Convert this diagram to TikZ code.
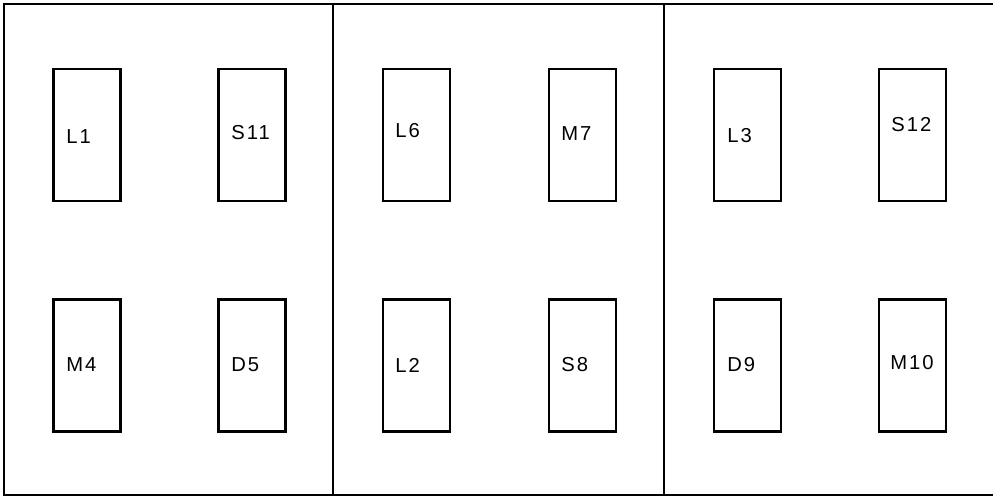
\documentclass[tikz,border=0pt]{standalone}
\usepackage{fontspec}
\setmainfont{Liberation Sans}[LetterSpace=10]
\usepackage{tikz}
\usetikzlibrary{positioning}

\tikzset{
    frame/.style={line width=1.1pt},
    room/.style={draw, line width=1.5pt, minimum width=1.34cm, minimum height=2.64cm, inner sep=0pt},
    tag/.style={anchor=west, inner sep=0pt, font=\fontsize{11.5}{13}\selectfont}
}

\begin{document}
\begin{tikzpicture}[x=0.02cm, y=-0.02cm]
    \useasboundingbox (0,0) rectangle (993,497);
    \clip (0,0) rectangle (993,497);

    % outer frame and panels
    \draw[frame] (4,4) rectangle (1000,495);
    \draw[frame] (333,4) -- (333,495);
    \draw[frame] (664,4) -- (664,495);

    % first panel
    \node[room] at (87,135) (l1) {};
    \node[room] at (252,135) (s11) {};
    \node[room] at (87,365.5) (m4) {};
    \node[room] at (252,365.5) (d5) {};
    \node[tag] at (66,137) (tl1) {L1};
    \node[tag] at (231,133) (ts11) {S11};
    \node[tag] at (66,365) (tm4) {M4};
    \node[tag] at (231,365) (td5) {D5};

    % second panel
    \node[room] at (416.5,135) (l6) {};
    \node[room] at (582.5,135) (m7) {};
    \node[room] at (416.5,365.5) (l2) {};
    \node[room] at (582.5,365.5) (s8) {};
    \node[tag] at (395,131) (tl6) {L6};
    \node[tag] at (561,134) (tm7) {M7};
    \node[tag] at (395,365) (tl2) {L2};
    \node[tag] at (561,365) (ts8) {S8};

    % third panel
    \node[room] at (747.5,135) (l3) {};
    \node[room] at (912.5,135) (s12) {};
    \node[room] at (747.5,365.5) (d9) {};
    \node[room] at (912.5,365.5) (m10) {};
    \node[tag] at (727,136) (tl3) {L3};
    \node[tag] at (891,125) (ts12) {S12};
    \node[tag] at (727,365) (td9) {D9};
    \node[tag] at (890,363) (tm10) {M10};
\end{tikzpicture}
\end{document}
